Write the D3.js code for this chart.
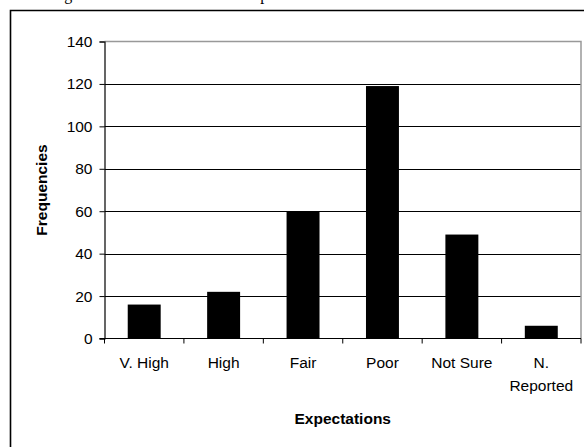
<!DOCTYPE html>
<html>
<head>
<meta charset="utf-8">
<script src="https://cdn.jsdelivr.net/npm/d3@7"></script>
<style>
  html, body { margin: 0; padding: 0; background: #fff; }
  svg { display: block; }
  text { font-family: Arial, "Liberation Sans", sans-serif; }
</style>
</head>
<body>
<svg id="chart" width="584" height="447"></svg>
<script>
const categories = ["V. High", "High", "Fair", "Poor", "Not Sure", "N. Reported"];
const categoryLabels = [["V. High"], ["High"], ["Fair"], ["Poor"], ["Not Sure"], ["N.", "Reported"]];
const frequencies = [16, 22, 60, 119, 49, 6];
const yTicks = [0, 20, 40, 60, 80, 100, 120, 140];
const xTitle = "Expectations";
const yTitle = "Frequencies";
const captionText = "Figure 5: Distribution of their expectations";

(function () {
const svg = d3.select("#chart");
svg.append("rect").attr("width", 584).attr("height", 447).attr("fill", "#fff");

// caption above the frame, cut off by the top edge as in the reference
svg.append("text")
  .attr("x", 51).attr("y", -0.5)
  .style("font-family", "'Times New Roman', 'Liberation Serif', serif")
  .style("font-size", "16px")
  .text(captionText);

// outer chart frame (extends beyond the picture)
svg.append("path")
  .attr("d", "M10.5,447 L10.5,10.5 L584,10.5")
  .attr("fill", "none").attr("stroke", "#000").attr("stroke-width", 1.6);

const pl = 104.5, pr = 581, pt = 41.5, pb = 338.5;

const x = d3.scaleBand().domain(categories).range([pl, pr])
  .paddingInner(0.585).paddingOuter(0.2925);
const y = d3.scaleLinear().domain([0, 140]).range([pb, pt]);

// gridlines
svg.append("g").selectAll("line")
  .data(yTicks.filter(t => t > 0 && t < 140))
  .join("line")
  .attr("x1", pl).attr("x2", pr)
  .attr("y1", d => Math.round(y(d)) + 0.5).attr("y2", d => Math.round(y(d)) + 0.5)
  .attr("stroke", "#000").attr("stroke-width", 1);

// plot border (top & right) gray
svg.append("path")
  .attr("d", `M${pl},${pt} L${pr},${pt} L${pr},${pb}`)
  .attr("fill", "none").attr("stroke", "#999").attr("stroke-width", 1.5);

// bars
svg.append("g").selectAll("rect")
  .data(frequencies)
  .join("rect")
  .attr("x", (d, i) => x(categories[i]))
  .attr("width", x.bandwidth())
  .attr("y", d => y(d))
  .attr("height", d => y(0) - y(d))
  .attr("fill", "#000");

// y axis
const yAxis = svg.append("g")
  .attr("transform", `translate(${pl},0)`)
  .call(d3.axisLeft(y).tickValues(yTicks).tickSize(5).tickPadding(7).tickFormat(d3.format("d")));
yAxis.select(".domain").attr("stroke", "#000").attr("stroke-width", 1.2);
yAxis.selectAll(".tick line").attr("stroke", "#000");
yAxis.selectAll(".tick text")
  .style("font-family", "Arial, 'Liberation Sans', sans-serif")
  .style("font-size", "15.5px").attr("fill", "#000");

// x axis line
svg.append("line")
  .attr("x1", pl - 5).attr("x2", pr)
  .attr("y1", pb).attr("y2", pb)
  .attr("stroke", "#000").attr("stroke-width", 1.2);

// x tick marks at category boundaries
const bounds = [pl].concat(categories.map(c => x(c) + x.bandwidth() + (x.step() - x.bandwidth()) / 2));
svg.append("g").selectAll("line")
  .data(bounds)
  .join("line")
  .attr("x1", d => d).attr("x2", d => d)
  .attr("y1", pb).attr("y2", pb + 5)
  .attr("stroke", "#000").attr("stroke-width", 1);

// x labels
const xl = svg.append("g").selectAll("text")
  .data(categories)
  .join("text")
  .attr("text-anchor", "middle")
  .attr("x", c => x(c) + x.bandwidth() / 2)
  .attr("y", 368)
  .style("font-size", "15.5px")
  .attr("fill", "#000");
xl.each(function(c, i) {
  const t = d3.select(this);
  categoryLabels[i].forEach((line, j) => {
    t.append("tspan").attr("x", x(c) + x.bandwidth() / 2).attr("dy", j === 0 ? 0 : 22.5).text(line);
  });
});

// axis titles
svg.append("text")
  .attr("x", (pl + pr) / 2).attr("y", 424)
  .attr("text-anchor", "middle")
  .style("font-size", "15.5px").style("font-weight", "bold")
  .text(xTitle);

svg.append("text")
  .attr("transform", `translate(47,${(pt + pb) / 2}) rotate(-90)`)
  .attr("text-anchor", "middle")
  .style("font-size", "15.5px").style("font-weight", "bold")
  .text(yTitle);
})();
</script>
</body>
</html>
